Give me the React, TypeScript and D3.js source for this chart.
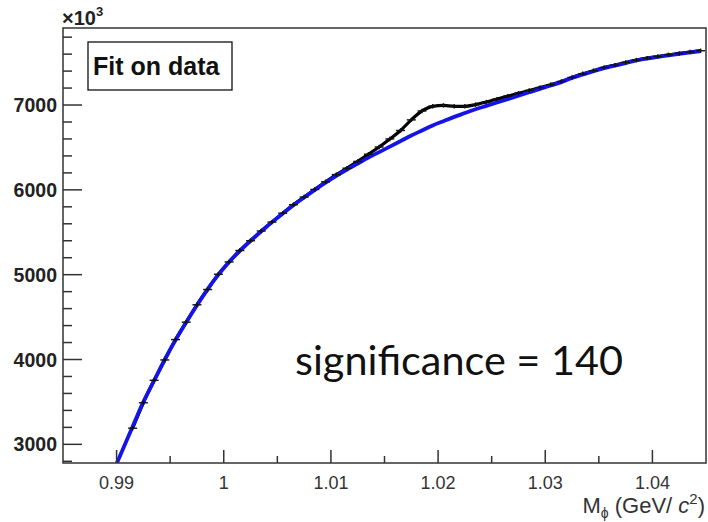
import React from "react";
import * as d3 from "d3";

// ---- data ----
const masses: number[] = [
  0.9915, 0.9925, 0.9935, 0.9945, 0.9955, 0.9965, 0.9975, 0.9985, 0.9995,
  1.0005, 1.0015, 1.0025, 1.0035, 1.0045, 1.0055, 1.0065, 1.0075, 1.0085, 1.0095,
  1.0105, 1.0115, 1.0125, 1.0135, 1.0145, 1.0155, 1.0165, 1.0175, 1.0185, 1.0195,
  1.0205, 1.0215, 1.0225, 1.0235, 1.0245, 1.0255, 1.0265, 1.0275, 1.0285, 1.0295,
  1.0305, 1.0315, 1.0325, 1.0335, 1.0345, 1.0355, 1.0365, 1.0375, 1.0385, 1.0395,
  1.0405, 1.0415, 1.0425, 1.0435, 1.0445,
];

const dataCounts: number[] = [
  3190, 3490, 3755, 3995, 4235, 4440, 4645, 4825, 5005,
  5150, 5285, 5400, 5515, 5620, 5725, 5825, 5915, 6005, 6095,
  6180, 6255, 6335, 6420, 6505, 6600, 6700, 6825, 6930, 6985,
  6995, 6985, 6985, 7005, 7035, 7070, 7105, 7138, 7172, 7205,
  7240, 7278, 7325, 7368, 7405, 7442, 7470, 7502, 7530, 7553,
  7572, 7592, 7608, 7625, 7640,
];

const fitMasses: number[] = [
  0.99, 0.9915, 0.9925, 0.9935, 0.9945, 0.9955, 0.9965, 0.9975, 0.9985, 0.9995,
  1.0005, 1.0015, 1.0025, 1.0035, 1.0045, 1.0055, 1.0065, 1.0075, 1.0085, 1.0095,
  1.0105, 1.0115, 1.0125, 1.0135, 1.0145, 1.0155, 1.0165, 1.0175, 1.0185, 1.0195,
  1.0205, 1.0215, 1.0225, 1.0235, 1.0245, 1.0255, 1.0265, 1.0275, 1.0285, 1.0295,
  1.0305, 1.0315, 1.0325, 1.0335, 1.0345, 1.0355, 1.0365, 1.0375, 1.0385, 1.0395,
  1.0405, 1.0415, 1.0425, 1.0435, 1.0445,
];

const fitBackground: number[] = [
  2770, 3210, 3500, 3750, 4000, 4230, 4440, 4640, 4830, 5000,
  5150, 5280, 5400, 5510, 5620, 5720, 5820, 5910, 6000, 6085,
  6165, 6240, 6310, 6380, 6445, 6510, 6575, 6640, 6700, 6760,
  6810, 6860, 6905, 6950, 6990, 7030, 7070, 7110, 7150, 7190,
  7230, 7270, 7320, 7360, 7400, 7435, 7465, 7495, 7525, 7548,
  7568, 7586, 7604, 7620, 7636,
];

const xMajorTicks: number[] = [0.99, 1.0, 1.01, 1.02, 1.03, 1.04];
const xTickLabels: string[] = ["0.99", "1", "1.01", "1.02", "1.03", "1.04"];
const xMinorTicks: number[] = [0.995, 1.005, 1.015, 1.025, 1.035];
const yMajorTicks: number[] = [3000, 4000, 5000, 6000, 7000];
const yTickLabels: string[] = ["3000", "4000", "5000", "6000", "7000"];
const yMinorTicks: number[] = [
  2800, 3200, 3400, 3600, 3800, 4200, 4400, 4600, 4800, 5200, 5400, 5600, 5800,
  6200, 6400, 6600, 6800, 7200, 7400, 7600, 7800,
];

const W = 708;
const H = 522;
const frame = { left: 63, right: 706, top: 28, bottom: 463 };

export default function App() {
  const x = d3.scaleLinear().domain([0.985, 1.045]).range([frame.left, frame.right]);
  const y = d3.scaleLinear().domain([2780, 7908]).range([frame.bottom, frame.top]);

  const fitLine = d3
    .line<number>()
    .x((_, i) => x(fitMasses[i]))
    .y((d) => y(d))
    .curve(d3.curveMonotoneX)(fitBackground) as string;

  const dataLine = d3
    .line<number>()
    .x((_, i) => x(masses[i]))
    .y((d) => y(d))
    .curve(d3.curveMonotoneX)(dataCounts) as string;

  const axisColor = "#333";
  const blue = "#1414e8";

  return (
    <svg
      width={W}
      height={H}
      style={{ position: "absolute", left: 0, top: 0, background: "#fff" }}
      fontFamily="'Liberation Sans', Arial, sans-serif"
    >
      <rect x={0} y={0} width={W} height={H} fill="#fff" />
      <defs>
        <clipPath id="plotClip">
          <rect
            x={frame.left}
            y={frame.top}
            width={frame.right - frame.left}
            height={frame.bottom - frame.top}
          />
        </clipPath>
      </defs>

      {/* curves */}
      <g clipPath="url(#plotClip)">
        <path d={dataLine} fill="none" stroke="#000" strokeWidth={3.2} />
        <path d={fitLine} fill="none" stroke={blue} strokeWidth={3.8} />
        {masses.map((m, i) => (
          <g key={i} stroke="#111" strokeWidth={1.4}>
            <line x1={x(m) - 4.5} x2={x(m) + 4.5} y1={y(dataCounts[i])} y2={y(dataCounts[i])} />
            <line x1={x(m)} x2={x(m)} y1={y(dataCounts[i]) - 2.2} y2={y(dataCounts[i]) + 2.2} />
          </g>
        ))}
      </g>

      {/* frame */}
      <rect
        x={frame.left}
        y={frame.top}
        width={frame.right - frame.left}
        height={frame.bottom - frame.top}
        fill="none"
        stroke={axisColor}
        strokeWidth={1.5}
      />

      {/* y ticks */}
      {yMajorTicks.map((t, i) => (
        <g key={"ym" + t}>
          <line x1={frame.left} x2={frame.left + 19} y1={y(t)} y2={y(t)} stroke={axisColor} strokeWidth={1.5} />
          <text
            x={frame.left - 6}
            y={y(t)}
            dy="0.36em"
            textAnchor="end"
            fontSize={19.5}
            fontWeight="bold"
            fill="#222"
          >
            {yTickLabels[i]}
          </text>
        </g>
      ))}
      {yMinorTicks.map((t) => (
        <line key={"yn" + t} x1={frame.left} x2={frame.left + 9} y1={y(t)} y2={y(t)} stroke={axisColor} strokeWidth={1.5} />
      ))}

      {/* x ticks */}
      {xMajorTicks.map((t, i) => (
        <g key={"xm" + t}>
          <line x1={x(t)} x2={x(t)} y1={frame.bottom} y2={frame.bottom - 13} stroke={axisColor} strokeWidth={1.5} />
          <text x={x(t)} y={489} textAnchor="middle" fontSize={18} fill="#333">
            {xTickLabels[i]}
          </text>
        </g>
      ))}
      {xMinorTicks.map((t) => (
        <line key={"xn" + t} x1={x(t)} x2={x(t)} y1={frame.bottom} y2={frame.bottom - 7} stroke={axisColor} strokeWidth={1.5} />
      ))}

      {/* x axis title */}
      <text x={705} y={513} textAnchor="end" fontSize={22} fill="#333">
        M<tspan fontSize={14} dy={5}>ϕ</tspan>
        <tspan dy={-5}> (GeV/ </tspan>
        <tspan fontStyle="italic">c</tspan>
        <tspan fontSize={15} dy={-9}>2</tspan>
        <tspan dy={9}>)</tspan>
      </text>

      {/* ×10^3 */}
      <text x={62} y={25} fontSize={20} fontWeight="bold" fill="#222">
        ×10<tspan fontSize={13} dy={-9}>3</tspan>
      </text>

      {/* Fit on data box */}
      <rect x={88} y={42} width={144} height={48} fill="#fff" stroke="#111" strokeWidth={1.3} />
      <text x={93} y={75} fontSize={25} fontWeight="bold" fill="#111">
        Fit on data
      </text>

      {/* significance */}
      <text
        x={295}
        y={375}
        fontSize={40}
        fontFamily="Lato, 'Open Sans', sans-serif"
        fill="#111"
        textLength={328}
        lengthAdjust="spacingAndGlyphs"
      >
        significance = 140
      </text>
    </svg>
  );
}
